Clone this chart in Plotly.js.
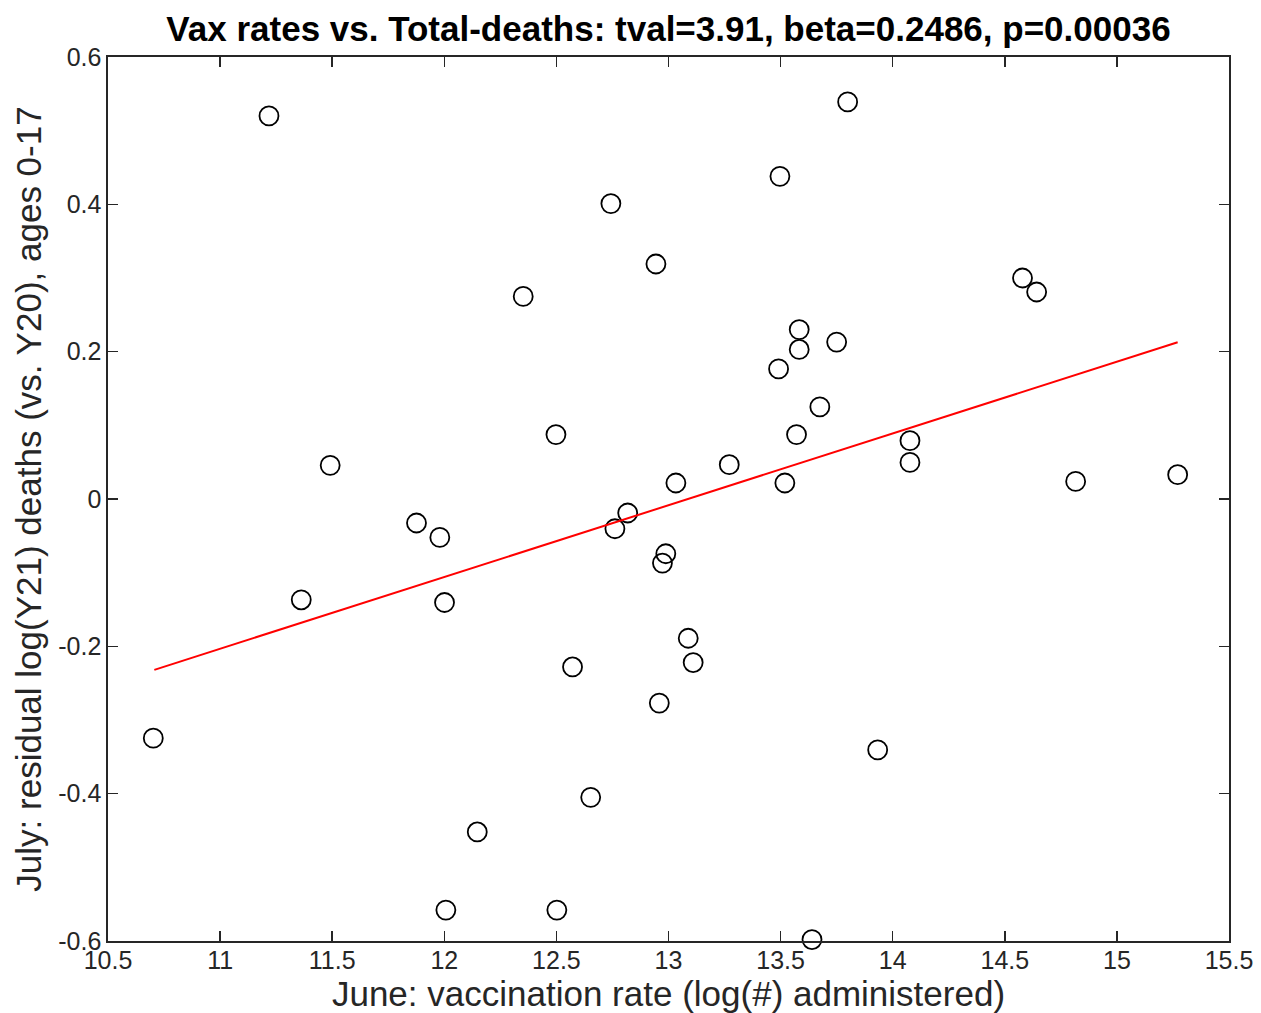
<!DOCTYPE html>
<html>
<head>
<meta charset="utf-8">
<script src="https://cdn.plot.ly/plotly-3.0.1.min.js"></script>
<style>html,body{margin:0;padding:0;background:#fff;}#chart{width:1261px;height:1013px;}</style>
</head>
<body>
<div id="chart"></div>
<script>
// June vaccination rate (log # administered)
const vaxRate = [11.218, 11.491, 13.799, 13.497, 12.743, 12.944, 12.352, 13.583, 13.583, 13.750,
  13.491, 13.675, 13.571, 12.498, 13.271, 13.033, 13.519, 14.579, 14.642, 14.077,
  14.077, 14.816, 15.271, 11.876, 11.980, 11.362, 12.001, 10.702, 12.147, 12.007,
  12.818, 12.761, 12.988, 12.973, 13.088, 13.110, 12.572, 12.959, 13.933, 12.653,
  12.502, 13.640];
// July residual log(Y21) deaths
const residDeaths = [0.520, 0.0457, 0.539, 0.438, 0.401, 0.319, 0.275, 0.230, 0.203, 0.213,
  0.1766, 0.125, 0.0874, 0.0874, 0.0466, 0.0217, 0.0217, 0.300, 0.281, 0.0792,
  0.0497, 0.0239, 0.033, -0.0326, -0.0522, -0.1368, -0.1405, -0.3247, -0.452, -0.558,
  -0.019, -0.0404, -0.0743, -0.087, -0.189, -0.222, -0.228, -0.277, -0.3406, -0.405,
  -0.558, -0.598];
// fitted regression line endpoints
const fitX = [10.7066, 15.271];
const fitY = [-0.2319, 0.2128];

const xTickVals = [10.5, 11, 11.5, 12, 12.5, 13, 13.5, 14, 14.5, 15, 15.5];
const xTickText = ['10.5', '11', '11.5', '12', '12.5', '13', '13.5', '14', '14.5', '15', '15.5'];
const yTickVals = [-0.6, -0.4, -0.2, 0, 0.2, 0.4, 0.6];
const yTickText = ['-0.6', '-0.4', '-0.2', '0', '0.2', '0.4', '0.6'];

const axisColor = '#262626';
const font = 'Liberation Sans, Arial, Helvetica, sans-serif';

const traces = [
  {
    x: vaxRate, y: residDeaths, type: 'scatter', mode: 'markers',
    cliponaxis: false,
    marker: {symbol: 'circle-open', size: 19, color: '#000', line: {width: 1.8, color: '#000'}},
    hoverinfo: 'x+y'
  },
  {
    x: fitX, y: fitY, type: 'scatter', mode: 'lines',
    line: {color: '#ff0000', width: 2}
  }
];

const commonAxis = {
  showgrid: false, zeroline: false, showline: true, linecolor: axisColor, linewidth: 1.6,
  mirror: 'ticks', ticks: 'inside', ticklen: 10, tickwidth: 1.5, tickcolor: axisColor,
  tickfont: {family: font, size: 25, color: axisColor}
};

const layout = {
  width: 1261, height: 1013,
  paper_bgcolor: '#fff', plot_bgcolor: '#fff',
  showlegend: false,
  margin: {l: 108, r: 32, t: 57, b: 72},
  title: {
    text: '<b>Vax rates vs. Total-deaths: tval=3.91, beta=0.2486, p=0.00036</b>',
    font: {family: font, size: 35, color: '#000'},
    x: 0.5, xanchor: 'center', xref: 'paper', y: 0.972, yanchor: 'middle'
  },
  xaxis: Object.assign({}, commonAxis, {
    range: [10.5, 15.5], tickmode: 'array', tickvals: xTickVals, ticktext: xTickText,
    ticklabelstandoff: -4,
    title: {text: 'June: vaccination rate (log(#) administered)', font: {family: font, size: 35, color: axisColor}, standoff: 0}
  }),
  yaxis: Object.assign({}, commonAxis, {
    range: [-0.6, 0.6], tickmode: 'array', tickvals: yTickVals, ticktext: yTickText,
    title: {text: 'July: residual log(Y21) deaths (vs. Y20), ages 0-17', font: {family: font, size: 35, color: axisColor}, standoff: 6}
  })
};

Plotly.newPlot('chart', traces, layout, {displayModeBar: false, staticPlot: true});
</script>
</body>
</html>
